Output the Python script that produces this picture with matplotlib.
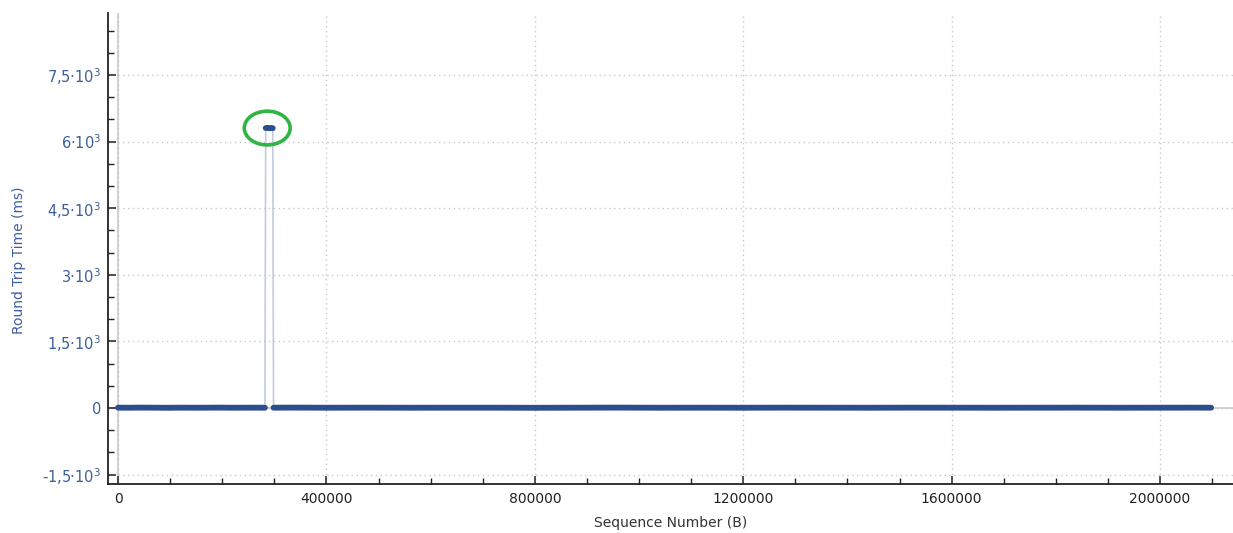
import matplotlib
matplotlib.use("Agg")
import matplotlib.pyplot as plt
from matplotlib.patches import Ellipse
from matplotlib.ticker import MultipleLocator, FuncFormatter

# Sequence numbers (bytes) and round trip times (ms)
seq_before = [0, 20000, 45000, 70000, 95000, 120000, 145000, 170000,
              195000, 220000, 245000, 265000, 282000]
rtt_before = [8, 6, 9, 7, 5, 8, 6, 7, 9, 6, 7, 8, 6]

seq_spike = [283500, 287000, 290500, 294000, 297000]
rtt_spike = [6305, 6310, 6300, 6308, 6302]

seq_after = [298500, 330000, 365000, 400000, 480000, 560000, 640000, 720000,
             800000, 880000, 960000, 1040000, 1120000, 1200000, 1280000,
             1360000, 1440000, 1520000, 1600000, 1680000, 1760000, 1840000,
             1920000, 2000000, 2060000, 2098000]
rtt_after = [7, 9, 8, 6, 8, 6, 7, 7, 5, 7, 9, 6, 7, 6, 8,
             7, 6, 8, 7, 6, 7, 8, 6, 7, 8, 7]

x_label = "Sequence Number (B)"
y_label = "Round Trip Time (ms)"

blue_dark = "#2b4f8e"
blue_line = "#c3cbdd"
label_blue = "#3d5f9e"

fig = plt.figure(figsize=(12.33, 5.33), dpi=100)
ax = fig.add_axes([0.0876, 0.0919, 0.9124, 0.8837])

# thin connecting line through every sample
all_seq = seq_before + seq_spike + seq_after
all_rtt = rtt_before + rtt_spike + rtt_after
ax.plot(all_seq, all_rtt, color=blue_line, lw=1.2, zorder=3)

# dense sample markers drawn as thick segments
for s, r in ((seq_before, rtt_before), (seq_spike, rtt_spike), (seq_after, rtt_after)):
    ax.plot(s, r, color=blue_dark, lw=4.2, solid_capstyle="round", zorder=4)

# highlight of the retransmission spike
cx = sum(seq_spike) / len(seq_spike)
cy = sum(rtt_spike) / len(rtt_spike)
ax.add_patch(Ellipse((cx - 4000, cy), width=88000, height=760, fill=False,
                     edgecolor="#2fb544", lw=2.6, zorder=5))

ax.set_xlim(-19200, 2140000)
ax.set_ylim(-1712, 8896)

# zero lines
ax.axvline(0, color="#d4d4d4", lw=1.5, zorder=1)
ax.axhline(0, color="#d4d4d4", lw=1.5, zorder=1)

ax.xaxis.set_major_locator(MultipleLocator(400000))
ax.xaxis.set_minor_locator(MultipleLocator(100000))
ax.yaxis.set_major_locator(MultipleLocator(1500))
ax.yaxis.set_minor_locator(MultipleLocator(500))


def y_fmt(v, pos):
    if abs(v) < 1e-9:
        return "0"
    m = v / 1000.0
    txt = ("%g" % m).replace(".", ",")
    return txt + "\u00b710$^{3}$"


ax.yaxis.set_major_formatter(FuncFormatter(y_fmt))
ax.xaxis.set_major_formatter(FuncFormatter(lambda v, p: "%d" % v))

ax.grid(True, which="major", color="#c8c8c8", linestyle=(0, (1, 2.5)), lw=1.0, zorder=0)

for side in ("top", "right"):
    ax.spines[side].set_visible(False)
for side in ("left", "bottom"):
    ax.spines[side].set_color("#222222")
    ax.spines[side].set_linewidth(1.3)

ax.tick_params(axis="both", which="major", direction="in", length=6, width=1.1,
               color="#222222", labelsize=10)
ax.tick_params(axis="both", which="minor", direction="in", length=4, width=1.0,
               color="#222222")
ax.tick_params(axis="y", labelcolor=label_blue, pad=5, labelsize=10.5)
ax.tick_params(axis="x", labelcolor="#222222", pad=6)

ax.set_xlabel(x_label, fontsize=10, color="#333333", labelpad=7)
ax.set_ylabel(y_label, fontsize=10, color=label_blue)
ax.yaxis.set_label_coords(-0.073, 0.475)

fig.savefig("out.png", dpi=100)
